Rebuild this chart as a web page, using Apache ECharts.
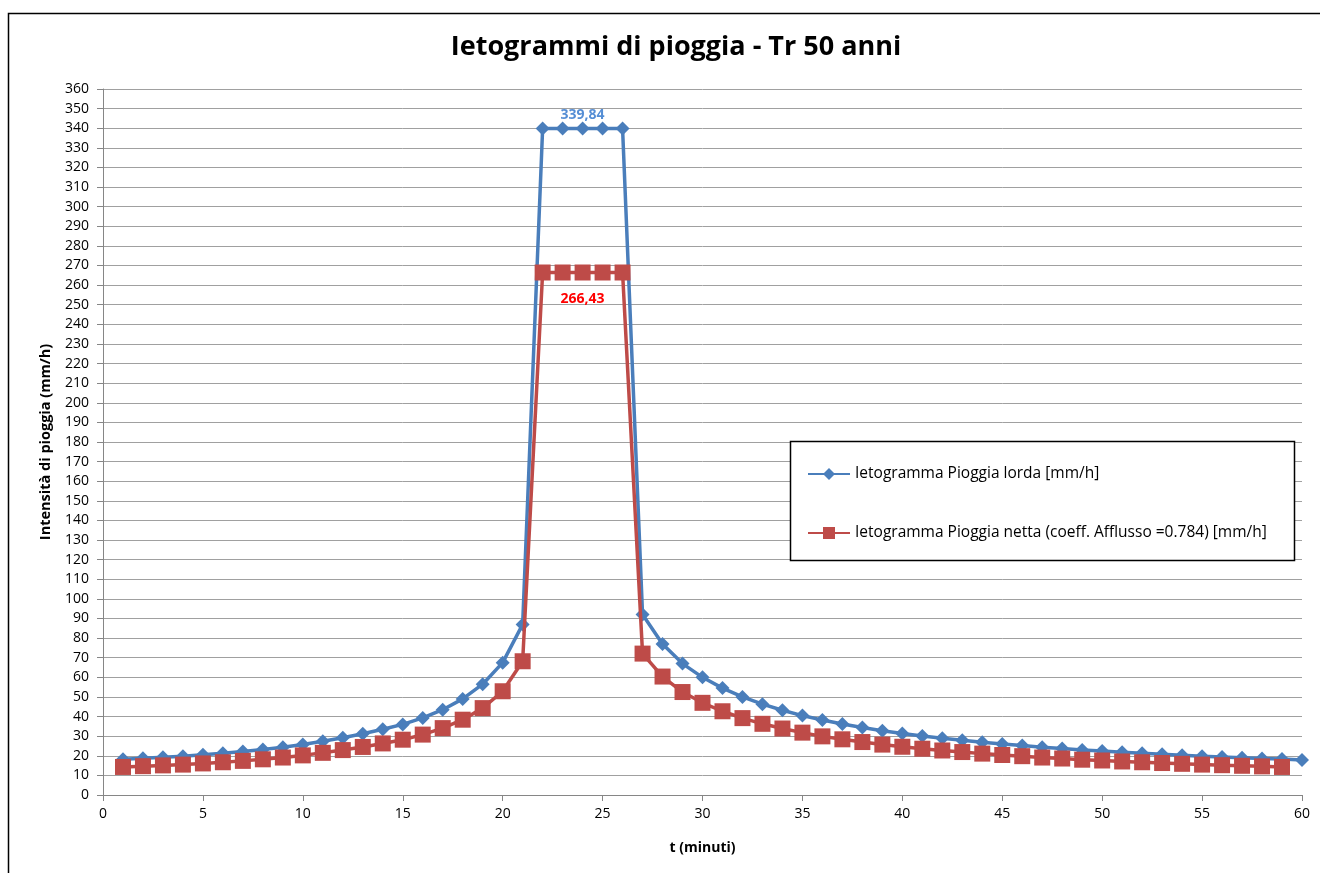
<!DOCTYPE html>
<html>
<head>
<meta charset="utf-8">
<script src="https://cdn.jsdelivr.net/npm/echarts@6/dist/echarts.min.js"></script>
<style>
html,body{margin:0;padding:0;background:#fff;}
#c{width:1320px;height:873px;}
</style>
</head>
<body>
<div id="c"></div>
<script>
const minutes = [1,2,3,4,5,6,7,8,9,10,11,12,13,14,15,16,17,18,19,20,21,22,23,24,25,26,27,28,29,30,31,32,33,34,35,36,37,38,39,40,41,42,43,44,45,46,47,48,49,50,51,52,53,54,55,56,57,58,59,60];
const pioggiaLorda = [18.2,18.7,19.2,19.8,20.5,21.3,22.2,23.2,24.4,25.8,27.4,29.2,31.2,33.5,36.0,39.3,43.5,49.0,56.5,67.5,87.0,339.84,339.84,339.84,339.84,339.84,92.0,77.0,67.0,60.0,54.5,50.0,46.3,43.2,40.5,38.2,36.2,34.4,32.8,31.4,30.1,28.9,27.9,26.9,26.0,25.2,24.4,23.7,23.0,22.4,21.8,21.3,20.8,20.3,19.8,19.4,19.0,18.6,18.3,17.9];
const pioggiaNetta = [14.3,14.7,15.1,15.5,16.1,16.7,17.4,18.2,19.1,20.2,21.5,22.9,24.5,26.3,28.2,30.8,34.1,38.4,44.3,52.9,68.2,266.43,266.43,266.43,266.43,266.43,72.1,60.4,52.5,47.0,42.7,39.2,36.3,33.9,31.8,29.9,28.4,27.0,25.7,24.6,23.6,22.7,21.9,21.1,20.4,19.8,19.1,18.6,18.0,17.6,17.1,16.7,16.3,15.9,15.5,15.2,14.9,14.6,14.3];
const seriesNames = ['Ietogramma Pioggia lorda [mm/h]','Ietogramma Pioggia netta (coeff. Afflusso =0.784) [mm/h]'];
const labelIndex = 23;

const FONT = '"Open Sans", "Liberation Sans", sans-serif';

function build(vals, labelCfg){
  return vals.map((v,i)=>{
    const p = {value:[minutes[i], v]};
    if(i===labelIndex){ p.label = labelCfg; }
    return p;
  });
}

const chart = echarts.init(document.getElementById('c'), null, {renderer:'canvas'});
chart.setOption({
  backgroundColor:'#fff',
  animation:false,
  title:{
    text:'Ietogrammi di pioggia - Tr 50 anni',
    left:671, top:29, textAlign:'center',
    textStyle:{fontFamily:FONT, fontSize:27, fontWeight:'bold', color:'#000'}
  },
  graphic:[
    {type:'rect', shape:{x:8.5,y:13.5,width:1330,height:880}, style:{fill:null, stroke:'#000', lineWidth:1.5}, z:-1},
    {type:'rect', shape:{x:790.5,y:441.5,width:504,height:119}, style:{fill:'#fff', stroke:'#000', lineWidth:1.5}, z:5}
  ],
  legend:{
    orient:'vertical',
    left:802, top:461,
    itemGap:43,
    itemWidth:42, itemHeight:15,
    z:10,
    textStyle:{fontFamily:FONT, fontSize:15.5, color:'#000'},
    data:seriesNames
  },
  grid:{left:103, right:18, top:89, bottom:78, containLabel:false},
  xAxis:{
    type:'value', min:0, max:60, interval:5,
    name:'t (minuti)', nameLocation:'middle', nameGap:46,
    nameTextStyle:{fontFamily:FONT, fontSize:14, fontWeight:'bold', color:'#000'},
    axisLine:{lineStyle:{color:'#868686', width:1}},
    axisTick:{show:true, length:6, lineStyle:{color:'#868686'}},
    axisLabel:{fontFamily:FONT, fontSize:14, color:'#000', margin:12},
    splitLine:{show:false}
  },
  yAxis:{
    type:'value', min:0, max:360, interval:10,
    name:'Intensità di pioggia (mm/h)', nameLocation:'middle', nameGap:50, nameRotate:90,
    nameTextStyle:{fontFamily:FONT, fontSize:14.5, fontWeight:'bold', color:'#000'},
    axisLine:{show:true, lineStyle:{color:'#868686', width:1}},
    axisTick:{show:true, length:6, lineStyle:{color:'#868686'}},
    axisLabel:{fontFamily:FONT, fontSize:14, color:'#000', margin:14},
    splitLine:{show:true, lineStyle:{color:'#a0a0a0', width:1}}
  },
  series:[
    {
      name:seriesNames[0], type:'line',
      data:build(pioggiaLorda, {show:true, position:'top', distance:0, formatter:'339,84', fontFamily:FONT, fontSize:14, fontWeight:'bold', color:'#558ED5'}),
      symbol:'diamond', symbolSize:14, showAllSymbol:true,
      lineStyle:{color:'#4A7EBB', width:3.5},
      itemStyle:{color:'#4A7EBB'},
      z:2
    },
    {
      name:seriesNames[1], type:'line',
      data:build(pioggiaNetta, {show:true, position:'bottom', distance:12, formatter:'266,43', fontFamily:FONT, fontSize:14, fontWeight:'bold', color:'#FF0000'}),
      symbol:'rect', symbolSize:16, showAllSymbol:true,
      lineStyle:{color:'#BE4B48', width:3.5},
      itemStyle:{color:'#BE4B48'},
      z:3
    }
  ]
});
</script>
</body>
</html>
